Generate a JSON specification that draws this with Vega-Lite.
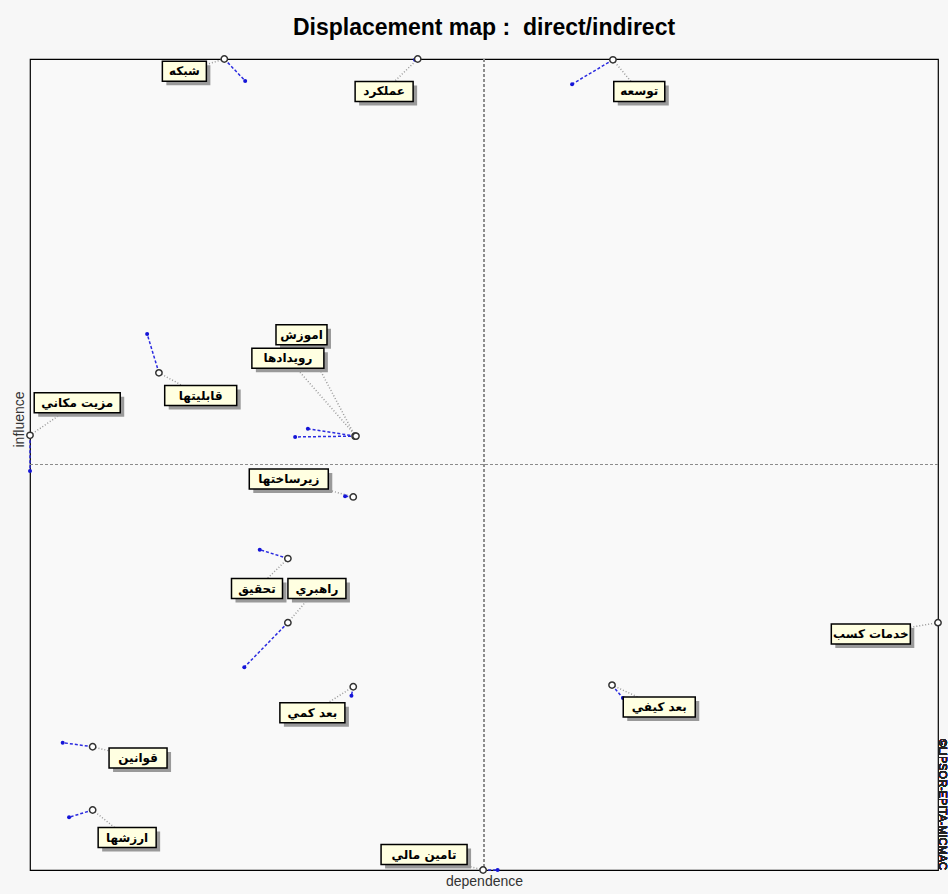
{
  "$schema": "https://vega.github.io/schema/vega-lite/v6.json",
  "width": 908,
  "height": 811,
  "autosize": {"type": "none"},
  "padding": {"left": 30, "top": 59, "right": 10, "bottom": 24},
  "background": "#f7f7f7",
  "config": {
    "view": {"stroke": "#000000", "strokeWidth": 1.2, "fill": "#f9f9f9"},
    "font": "Liberation Sans"
  },
  "title": {
    "text": "Displacement map :\u00a0 direct/indirect",
    "font": "Liberation Sans",
    "fontSize": 23,
    "fontWeight": "bold",
    "color": "#000000",
    "anchor": "middle",
    "offset": 13
  },
  "data": {
    "values": [
      {"label": "شبكه", "dep_ind": 21.4, "inf_ind": 100.0, "dep_dir": 23.7, "inf_dir": 97.3, "label_x": 17.0, "label_y": 98.5},
      {"label": "عملكرد", "dep_ind": 42.7, "inf_ind": 100.0, "dep_dir": 42.4, "inf_dir": 99.9, "label_x": 39.0, "label_y": 96.0},
      {"label": "توسعه", "dep_ind": 64.2, "inf_ind": 99.9, "dep_dir": 59.7, "inf_dir": 96.9, "label_x": 67.1, "label_y": 96.0},
      {"label": "اموزش", "dep_ind": 35.8, "inf_ind": 53.5, "dep_dir": 30.6, "inf_dir": 54.4, "label_x": 29.9, "label_y": 66.0},
      {"label": "رويدادها", "dep_ind": 35.9, "inf_ind": 53.5, "dep_dir": 29.2, "inf_dir": 53.4, "label_x": 28.4, "label_y": 63.1},
      {"label": "قابليتها", "dep_ind": 14.2, "inf_ind": 61.3, "dep_dir": 12.9, "inf_dir": 66.1, "label_x": 18.8, "label_y": 58.5},
      {"label": "مزيت مكاني", "dep_ind": 0.0, "inf_ind": 53.6, "dep_dir": 0.0, "inf_dir": 49.2, "label_x": 5.2, "label_y": 57.6},
      {"label": "زيرساختها", "dep_ind": 35.6, "inf_ind": 46.0, "dep_dir": 34.7, "inf_dir": 46.1, "label_x": 28.5, "label_y": 48.2},
      {"label": "تحقيق", "dep_ind": 28.4, "inf_ind": 38.4, "dep_dir": 25.3, "inf_dir": 39.5, "label_x": 25.0, "label_y": 34.7},
      {"label": "راهبري", "dep_ind": 28.4, "inf_ind": 30.5, "dep_dir": 23.6, "inf_dir": 25.0, "label_x": 31.6, "label_y": 34.7},
      {"label": "بعد كمي", "dep_ind": 35.6, "inf_ind": 22.6, "dep_dir": 35.4, "inf_dir": 21.5, "label_x": 31.1, "label_y": 19.4},
      {"label": "قوانين", "dep_ind": 6.9, "inf_ind": 15.2, "dep_dir": 3.6, "inf_dir": 15.7, "label_x": 11.9, "label_y": 13.8},
      {"label": "ارزشها", "dep_ind": 6.9, "inf_ind": 7.4, "dep_dir": 4.3, "inf_dir": 6.5, "label_x": 10.7, "label_y": 4.0},
      {"label": "تامين مالي", "dep_ind": 49.9, "inf_ind": 0.0, "dep_dir": 51.5, "inf_dir": 0.0, "label_x": 43.4, "label_y": 1.9},
      {"label": "بعد كيفي", "dep_ind": 64.1, "inf_ind": 22.8, "dep_dir": 65.3, "inf_dir": 21.2, "label_x": 69.3, "label_y": 20.1},
      {"label": "خدمات كسب", "dep_ind": 100.0, "inf_ind": 30.5, "dep_dir": 100.0, "inf_dir": 30.3, "label_x": 92.6, "label_y": 29.1}
    ]
  },
  "encoding": {
    "x": {
      "field": "dep_ind", "type": "quantitative",
      "scale": {"domain": [0, 100], "nice": false, "zero": false},
      "axis": {"title": "dependence", "labels": false, "ticks": false, "domain": false, "grid": false, "titleFontSize": 14, "titleFontWeight": "normal", "titleColor": "#333333", "titlePadding": 4, "titleFont": "Liberation Sans"}
    },
    "y": {
      "field": "inf_ind", "type": "quantitative",
      "scale": {"domain": [0, 100], "nice": false, "zero": false},
      "axis": {"title": "influence", "labels": false, "ticks": false, "domain": false, "grid": false, "titleFontSize": 14, "titleFontWeight": "normal", "titleColor": "#333333", "titlePadding": 4, "titleFont": "Liberation Sans", "titleY": 360}
    }
  },
  "layer": [
    {
      "mark": {"type": "rule", "color": "#8c8c8c", "strokeDash": [3, 2], "strokeWidth": 1},
      "encoding": {"x": {"datum": 50}, "y": null}
    },
    {
      "mark": {"type": "rule", "color": "#8c8c8c", "strokeDash": [3, 2], "strokeWidth": 1},
      "encoding": {"y": {"datum": 50}, "x": null}
    },
    {
      "mark": {"type": "rule", "color": "#9a9a9a", "strokeDash": [1, 2], "strokeWidth": 1.5},
      "encoding": {"x2": {"field": "label_x"}, "y2": {"field": "label_y"}}
    },
    {
      "mark": {"type": "rule", "color": "#2a2ae0", "strokeDash": [3, 2], "strokeWidth": 1.5},
      "encoding": {"x2": {"field": "dep_dir"}, "y2": {"field": "inf_dir"}}
    },
    {
      "mark": {"type": "point", "filled": true, "color": "#1515d8", "size": 16, "opacity": 1},
      "encoding": {"x": {"field": "dep_dir", "type": "quantitative"}, "y": {"field": "inf_dir", "type": "quantitative"}}
    },
    {
      "mark": {"type": "point", "filled": true, "fill": "#ffffff", "stroke": "#333333", "strokeWidth": 1.5, "size": 40, "opacity": 1}
    },
    {
      "mark": {"type": "rect", "fill": "#9a9a9a",
        "xOffset": {"expr": "-(length(datum.label)*3.5+8)+4"},
        "x2Offset": {"expr": "length(datum.label)*3.5+8+4"},
        "yOffset": -6, "y2Offset": 14},
      "encoding": {"x": {"field": "label_x", "type": "quantitative"}, "x2": {"field": "label_x"}, "y": {"field": "label_y", "type": "quantitative"}, "y2": {"field": "label_y"}}
    },
    {
      "mark": {"type": "rect", "fill": "#ffffe1", "stroke": "#000000", "strokeWidth": 1.5,
        "xOffset": {"expr": "-(length(datum.label)*3.5+8)"},
        "x2Offset": {"expr": "length(datum.label)*3.5+8"},
        "yOffset": -10, "y2Offset": 10},
      "encoding": {"x": {"field": "label_x", "type": "quantitative"}, "x2": {"field": "label_x"}, "y": {"field": "label_y", "type": "quantitative"}, "y2": {"field": "label_y"}}
    },
    {
      "mark": {"type": "text", "font": "DejaVu Sans", "fontSize": 12, "fontWeight": "bold", "color": "#000000", "align": "center", "baseline": "middle"},
      "encoding": {"x": {"field": "label_x", "type": "quantitative"}, "y": {"field": "label_y", "type": "quantitative"}, "text": {"field": "label"}}
    },
    {
      "mark": {"type": "text", "text": "©LIPSOR-EPITA-MICMAC", "font": "Liberation Sans", "fontSize": 11, "fontWeight": "normal", "color": "#222222", "angle": 90, "align": "right", "baseline": "alphabetic", "dy": -0.5},
      "encoding": {"x": {"datum": 100}, "y": {"datum": 0}}
    }
  ]
}
